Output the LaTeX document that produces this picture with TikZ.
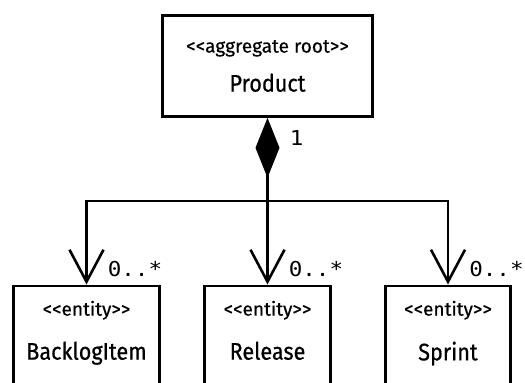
\documentclass[tikz,border=0pt]{standalone}
\usepackage{fontspec}
\usetikzlibrary{arrows.meta,positioning}
\newfontfamily\handfont[FakeStretch=0.9,FakeBold=0.6]{Fira Sans}
\newfontfamily\stereofont[FakeBold=0.4]{Fira Sans}
\newfontfamily\multfont[FakeStretch=1.1]{DejaVu Sans Mono}
\newcommand{\stereotype}[1]{{\stereofont\fontsize{19}{19}\selectfont <<#1>>}}
\newcommand{\classname}[1]{{\fontsize{24}{24}\selectfont #1}}
\begin{document}
\begin{tikzpicture}
[x=1pt, y=-1pt,
baseshape/.style={draw=black, line width=2.6pt, align=center, font=\handfont},
rootbox/.style={baseshape, minimum width=210pt, minimum height=101pt},
entitybox/.style={baseshape, anchor=north, inner ysep=15pt, text depth=90pt},
composition/.style={line width=2.6pt, {Diamond[length=60pt,width=24pt]}-},
arrow/.style={line width=2.6pt, -{Straight Barb[length=32pt,width=34pt]}},
mult/.style={font=\multfont\fontsize{20.5}{20.5}\selectfont, inner sep=0pt, anchor=base west}]
    \clip (0,0) rectangle (525,383);
    \node (product) [rootbox] at (267.5,66) {\stereotype{aggregate root}\\[16pt]\classname{Product}};
    \node (backlog) [entitybox, minimum width=146pt] at (86.5,284.5) {\stereotype{entity}\\[21pt]\classname{BacklogItem}};
    \node (release) [entitybox, minimum width=126pt] at (267.5,284.5) {\stereotype{entity}\\[21pt]\classname{Release}};
    \node (sprint) [entitybox, minimum width=125pt] at (448,284.5) {\stereotype{entity}\\[21pt]\classname{Sprint}};
    \coordinate (hub) at (267.5,201);
    \draw[composition] (product.south) -- node[mult, at start, xshift=21pt, yshift=-28pt]{1} (hub);
    \draw[arrow] (hub) -| node[mult, at end, xshift=20pt, yshift=8pt]{0..*} (backlog.north);
    \draw[arrow] (hub) -- node[mult, at end, xshift=20pt, yshift=8pt]{0..*} (release.north);
    \draw[arrow] (hub) -| node[mult, at end, xshift=20pt, yshift=8pt]{0..*} (sprint.north);
\end{tikzpicture}
\end{document}
